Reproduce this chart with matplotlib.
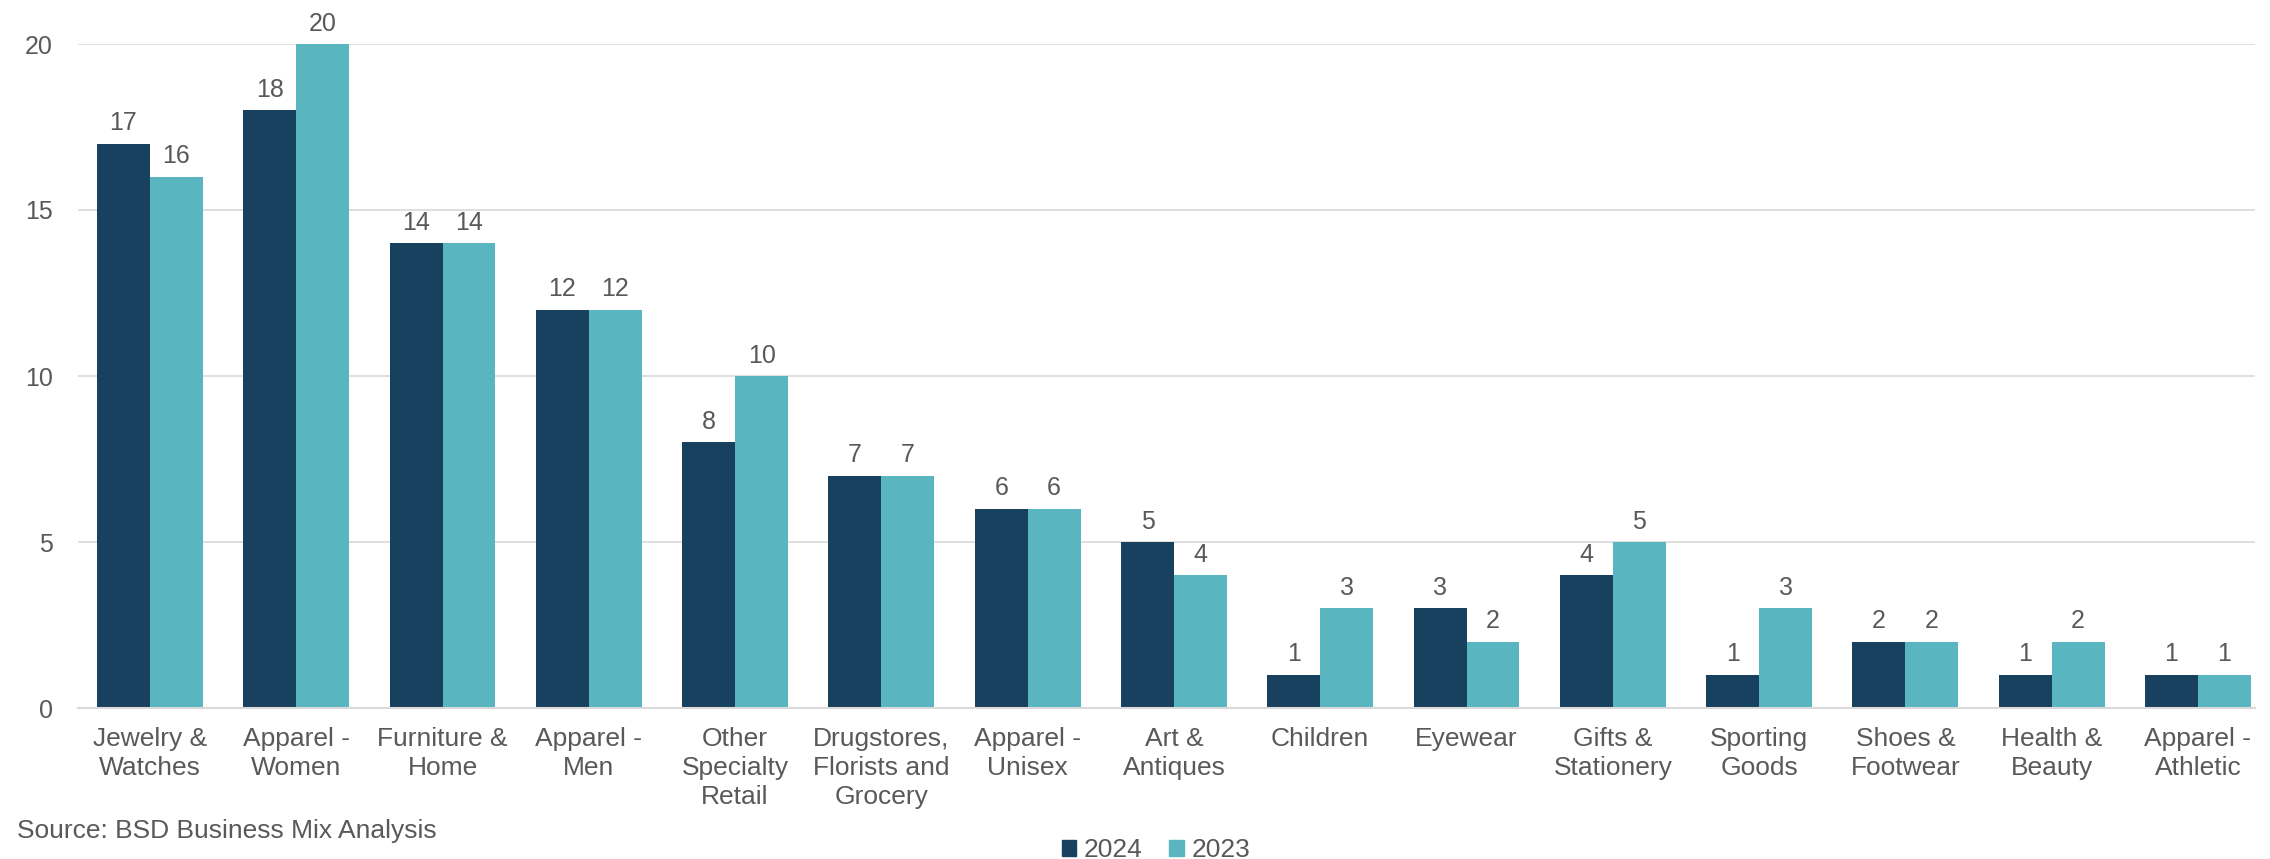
import matplotlib
matplotlib.use("Agg")
import matplotlib.pyplot as plt
from matplotlib.patches import Patch
import numpy as np

categories = [
    "Jewelry &\nWatches", "Apparel -\nWomen", "Furniture &\nHome", "Apparel -\nMen",
    "Other\nSpecialty\nRetail", "Drugstores,\nFlorists and\nGrocery", "Apparel -\nUnisex",
    "Art &\nAntiques", "Children", "Eyewear", "Gifts &\nStationery", "Sporting\nGoods",
    "Shoes &\nFootwear", "Health &\nBeauty", "Apparel -\nAthletic",
]
values_2024 = [17, 18, 14, 12, 8, 7, 6, 5, 1, 3, 4, 1, 2, 1, 1]
values_2023 = [16, 20, 14, 12, 10, 7, 6, 4, 3, 2, 5, 3, 2, 2, 1]
series_names = ["2024", "2023"]
yticks = [0, 5, 10, 15, 20]

DARK = "#17415F"
LIGHT = "#59B6C0"
TEXT = "#595959"
GRID = "#D9D9D9"

plt.rcParams["font.family"] = ["Liberation Sans", "DejaVu Sans"]

W, H = 2270, 859
fig = plt.figure(figsize=(W / 100, H / 100), dpi=100)
left_px, right_px, bottom_px, top_px = 78, 2255, 708, 44
ax = fig.add_axes([left_px / W, 1 - bottom_px / H,
                   (right_px - left_px) / W, (bottom_px - top_px) / H])

x = np.arange(len(categories))
w = 0.362
b1 = ax.bar(x - w / 2, values_2024, w, color=DARK, zorder=3)
b2 = ax.bar(x + w / 2, values_2023, w, color=LIGHT, zorder=3)

for bars, vals in ((b1, values_2024), (b2, values_2023)):
    for rect, v in zip(bars, vals):
        ax.annotate(str(v), (rect.get_x() + rect.get_width() / 2, v),
                    xytext=(0, 6), textcoords="offset points",
                    ha="center", va="bottom", fontsize=18, color=TEXT,
                    annotation_clip=False)

ax.set_xlim(-0.492, 14.39)
ax.set_ylim(0, 20)
ax.set_yticks(yticks)
ax.set_xticks(x)
ax.set_xticklabels(categories, fontsize=19, color=TEXT, linespacing=1.25, va="top")
ax.tick_params(axis="y", labelsize=18, labelcolor=TEXT, length=0, pad=18)
ax.tick_params(axis="x", length=0, pad=14)
ax.yaxis.grid(True, color=GRID, linewidth=1.2, zorder=0)
ax.set_axisbelow(True)
for side in ("top", "right", "left"):
    ax.spines[side].set_visible(False)
ax.spines["bottom"].set_color(GRID)
ax.spines["bottom"].set_linewidth(1.5)
ax.spines["bottom"].set_zorder(4)

fig.text(17 / W, 1 - 831 / H, "Source: BSD Business Mix Analysis", fontsize=19,
         color=TEXT, ha="left", va="center")

handles = [Patch(color=DARK), Patch(color=LIGHT)]
fig.legend(handles, series_names, loc="center", bbox_to_anchor=(1156 / W, 1 - 850 / H),
           ncol=2, frameon=False, fontsize=19, labelcolor=TEXT,
           handlelength=0.55, handleheight=0.55, handletextpad=0.3,
           columnspacing=1.0)

fig.savefig("out.png", dpi=100)
